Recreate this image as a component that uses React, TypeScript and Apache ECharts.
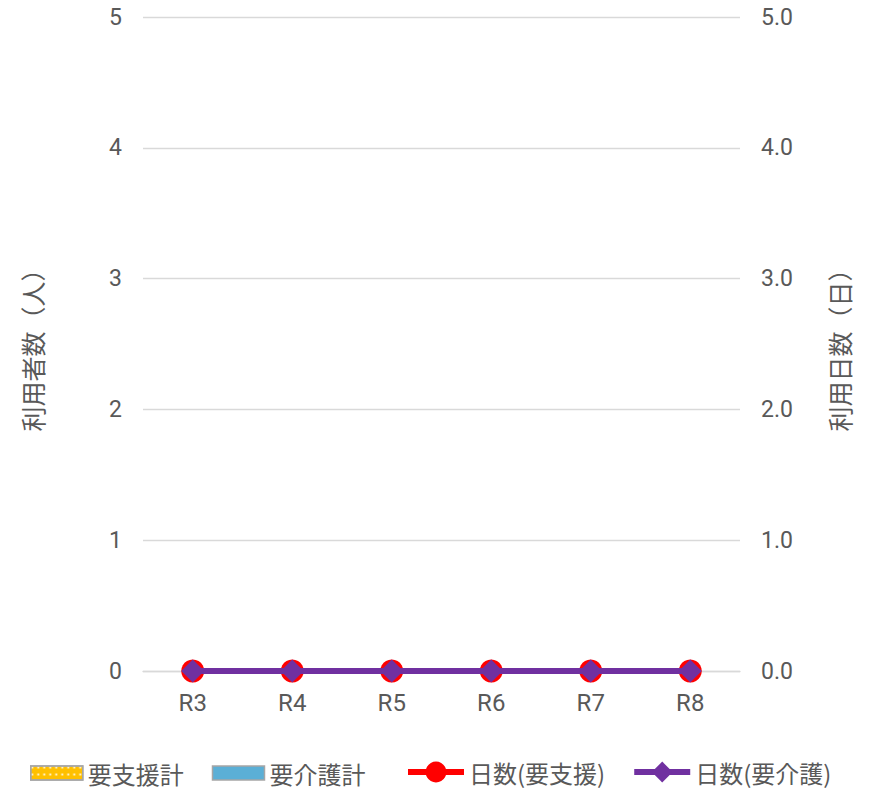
import React, { useEffect, useRef } from "react";
import * as echarts from "echarts";

const categories = ["R3", "R4", "R5", "R6", "R7", "R8"];
const shienTotal = [0, 0, 0, 0, 0, 0];
const kaigoTotal = [0, 0, 0, 0, 0, 0];
const daysShien = [0, 0, 0, 0, 0, 0];
const daysKaigo = [0, 0, 0, 0, 0, 0];
const leftTicks = [0, 1, 2, 3, 4, 5];
const rightTicks = [0, 1, 2, 3, 4, 5];
const seriesNames = ["要支援計", "要介護計", "日数(要支援)", "日数(要介護)"];

const FONT = "Roboto, 'Noto Sans CJK JP', sans-serif";
const CJK = "'Noto Sans CJK JP', sans-serif";
const TXT = "#595959";

export default function App() {
  const ref = useRef<HTMLDivElement>(null);
  useEffect(() => {
    const chart = echarts.init(ref.current!, undefined, { renderer: "svg" });
    chart.setOption({
      animation: false,
      backgroundColor: "#fff",
      grid: { left: 143, right: 130, top: 17, bottom: 119 },
      legend: [
        {
          top: 761,
          left: 30,
          padding: 0,
          icon: "rect",
          itemWidth: 52,
          itemHeight: 14,
          itemGap: 28,
          textStyle: { color: TXT, fontSize: 24, fontFamily: CJK },
          data: [
            { name: seriesNames[0], itemStyle: { borderColor: "#A6A6A6", borderWidth: 1.5 } },
            { name: seriesNames[1], itemStyle: { borderColor: "#A6A6A6", borderWidth: 1.5 } },
          ],
        },
        {
          top: 760,
          left: 405,
          padding: 0,
          itemWidth: 56,
          itemHeight: 26,
          itemGap: 26,
          textStyle: { color: TXT, fontSize: 24, fontFamily: CJK },
          lineStyle: { width: 6 },
          data: [seriesNames[2], seriesNames[3]],
        },
      ],
      xAxis: {
        type: "category",
        data: categories,
        axisLine: { lineStyle: { color: "#d9d9d9", width: 1.3 } },
        axisTick: { show: false },
        axisLabel: { color: TXT, fontSize: 24, fontFamily: FONT, margin: 20 },
      },
      yAxis: [
        {
          type: "value",
          min: leftTicks[0],
          max: leftTicks[leftTicks.length - 1],
          interval: 1,
          name: "利用者数（人）",
          nameLocation: "middle",
          nameRotate: 90,
          nameGap: 99,
          nameTextStyle: { color: TXT, fontSize: 25, fontFamily: CJK },
          axisLine: { show: false },
          axisTick: { show: false },
          axisLabel: { color: TXT, fontSize: 23, fontFamily: FONT, margin: 21 },
          splitLine: { lineStyle: { color: "#d9d9d9", width: 1.3 } },
        },
        {
          type: "value",
          min: rightTicks[0],
          max: rightTicks[rightTicks.length - 1],
          interval: 1,
          position: "right",
          name: "利用日数（日）",
          nameLocation: "middle",
          nameRotate: 90,
          nameGap: 86,
          nameTextStyle: { color: TXT, fontSize: 25, fontFamily: CJK },
          axisLine: { show: false },
          axisTick: { show: false },
          axisLabel: {
            color: TXT,
            fontSize: 23,
            fontFamily: FONT,
            margin: 21,
            formatter: (v: number) => v.toFixed(1),
          },
          splitLine: { show: false },
        },
      ],
      series: [
        {
          name: seriesNames[0],
          type: "bar",
          stack: "users",
          data: shienTotal,
          barWidth: "55%",
          itemStyle: {
            color: "#FFC000",
            decal: {
              symbol: "rect",
              symbolSize: 0.6,
              color: "rgba(255,255,255,0.9)",
              dashArrayX: [3, 3],
              dashArrayY: [3, 4],
              rotation: 0,
            },
          },
        },
        {
          name: seriesNames[1],
          type: "bar",
          stack: "users",
          data: kaigoTotal,
          itemStyle: { color: "#5BAFD6" },
        },
        {
          name: seriesNames[2],
          type: "line",
          yAxisIndex: 1,
          data: daysShien,
          symbol: "circle",
          symbolSize: 23,
          lineStyle: { color: "#FF0000", width: 6 },
          itemStyle: { color: "#FF0000" },
          z: 3,
        },
        {
          name: seriesNames[3],
          type: "line",
          yAxisIndex: 1,
          data: daysKaigo,
          symbol: "diamond",
          symbolSize: 23,
          lineStyle: { color: "#7030A0", width: 6 },
          itemStyle: { color: "#7030A0" },
          z: 4,
        },
      ],
    });
    return () => chart.dispose();
  }, []);
  return (
    <div
      ref={ref}
      style={{ position: "fixed", left: 0, top: 0, width: 870, height: 790 }}
    />
  );
}
